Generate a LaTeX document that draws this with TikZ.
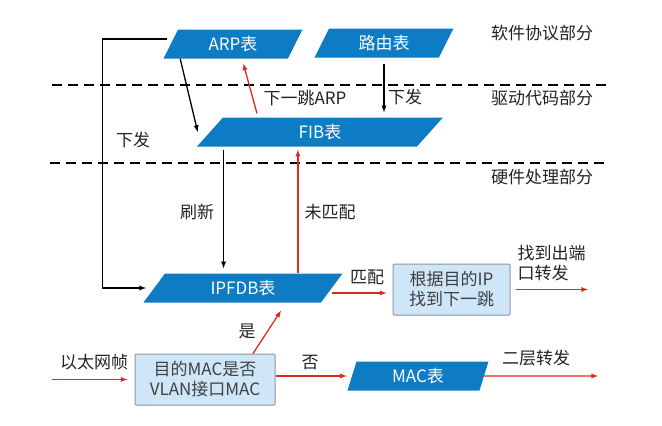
\documentclass[tikz,border=0pt]{standalone}
\usepackage{fontspec}
\setmainfont{Noto Sans CJK SC}
\usepackage{xcolor}
\usepackage{tikz}
\usetikzlibrary{positioning}
\usetikzlibrary{shapes.geometric}
\usetikzlibrary{arrows}
\usetikzlibrary{calc}
\definecolor{tblblue}{RGB}{14,124,196}
\definecolor{boxfill}{RGB}{206,230,248}
\definecolor{boxline}{RGB}{140,150,165}
\definecolor{arrred}{RGB}{225,40,30}
\definecolor{txtgray}{RGB}{35,35,35}

\begin{document}
\begin{tikzpicture}[x=1pt,y=-1pt,>=latex]
   \useasboundingbox (0,0) rectangle (662,426);
   \tikzset{tbl/.style 2 args={shape=trapezium,trapezium left angle=#1,trapezium right angle=180-#1,
      trapezium stretches body,fill=tblblue,draw=none,text=white,inner sep=0pt,minimum width=#2,minimum height=29pt}}
   \tikzstyle{every node}=[font=\fontsize{17}{20}\selectfont,text=txtgray]
   \tikzstyle{box}=[draw=boxline,fill=boxfill,line width=1pt,align=center,inner sep=0pt,rounded corners=1pt,text=black!75]
   \tikzstyle{blk}=[->,line width=1.3pt,black]
   \tikzstyle{redarr}=[->,line width=1.3pt,arrred]
   % layers
   \foreach \y/\a/\b in {85/52/610,163/50/608}
      \draw[dashed,line width=1.6pt,dash pattern=on 10pt off 6pt] (\a,\y) -- (\b,\y);
   \foreach \y/\t in {33/软件协议部分,98/驱动代码部分,177/硬件处理部分}
      \node (layer\y) at (542,\y) {\t};
   % tables
   \node[tbl={47}{139pt}] (arp) at (233,44) {ARP表};
   \node[tbl={47}{139pt}] (route) at (384,43) {路由表};
   \node[tbl={31}{246pt}] (fib) at (320,132) {FIB表};
   \node[tbl={36}{199pt}] (ipfdb) at (243,288) {IPFDB表};
   \node[tbl={60}{141pt}] (mac) at (418,376) {MAC表};
   \node[box,minimum width=140pt,minimum height=51pt] (check) at (205,379.5) {目的MAC是否\\VLAN接口MAC};
   \node[box,minimum width=117pt,minimum height=51pt] (nexthop) at (451.5,289.5) {根据目的IP\\找到下一跳};
   \coordinate (in) at (52,379.5);
   \coordinate (out1) at (588,289.5);
   \coordinate (out2) at (598,376);
   % labels
   \node (lblleft) at (133,140) {下发};
   \node (lbldown) at (405,97) {下发};
   \node (lblnext) at (305,98) {下一跳ARP};
   \node (lblrefresh) at (197,212) {刷新};
   \node (lblmiss) at (330,212) {未匹配};
   \node (lblhit) at (367,277) {匹配};
   \node[align=left,anchor=west] (lblout) at (514,263.5) {找到出端\\口转发};
   \node (lblyes) at (247,331) {是};
   \node (lblno) at (310,363) {否};
   \node (lblframe) at (94,362) {以太网帧};
   \node (lblL2) at (536,358) {二层转发};
   % connectors
   \draw[blk] ([xshift=17pt]arp.bottom left corner) -- ([xshift=-12pt]fib.west);
   \draw[blk,shorten <=6pt,shorten >=5pt] (route.south) -- (route.south |- fib.north);
   \draw[redarr,shorten <=4pt,shorten >=5pt] ([xshift=-62pt]fib.north) -- ([xshift=9pt]arp.south);
   \draw[blk,shorten <=3pt,shorten >=5pt] ([xshift=27pt]fib.bottom left corner) -- ([xshift=27pt]fib.bottom left corner |- ipfdb.north);
   \draw[redarr,shorten >=3pt] ([xshift=-45pt]ipfdb.top right corner) -- ([xshift=-45pt]ipfdb.top right corner |- fib.south);
   \draw[blk] ([xshift=-4pt,yshift=5pt]arp.west) -- ++(-64,0) |- ([xshift=-8pt]ipfdb.west);
   \draw[redarr,shorten >=6pt] ([yshift=-5pt]ipfdb.east) -- ([yshift=-5pt]ipfdb.east -| nexthop.west);
   \draw[redarr,shorten <=5pt] (nexthop.east) -- (out1);
   \draw[redarr,shorten >=7pt] (in) -- (in -| check.west);
   \draw[redarr,shorten >=5pt] (check.east |- mac.west) -- (mac.west);
   \draw[redarr] (mac.east) -- (out2);
   \draw[redarr] ([xshift=48pt]check.north) -- ([xshift=38pt,yshift=-8pt]ipfdb.south);
\end{tikzpicture}
\end{document}
